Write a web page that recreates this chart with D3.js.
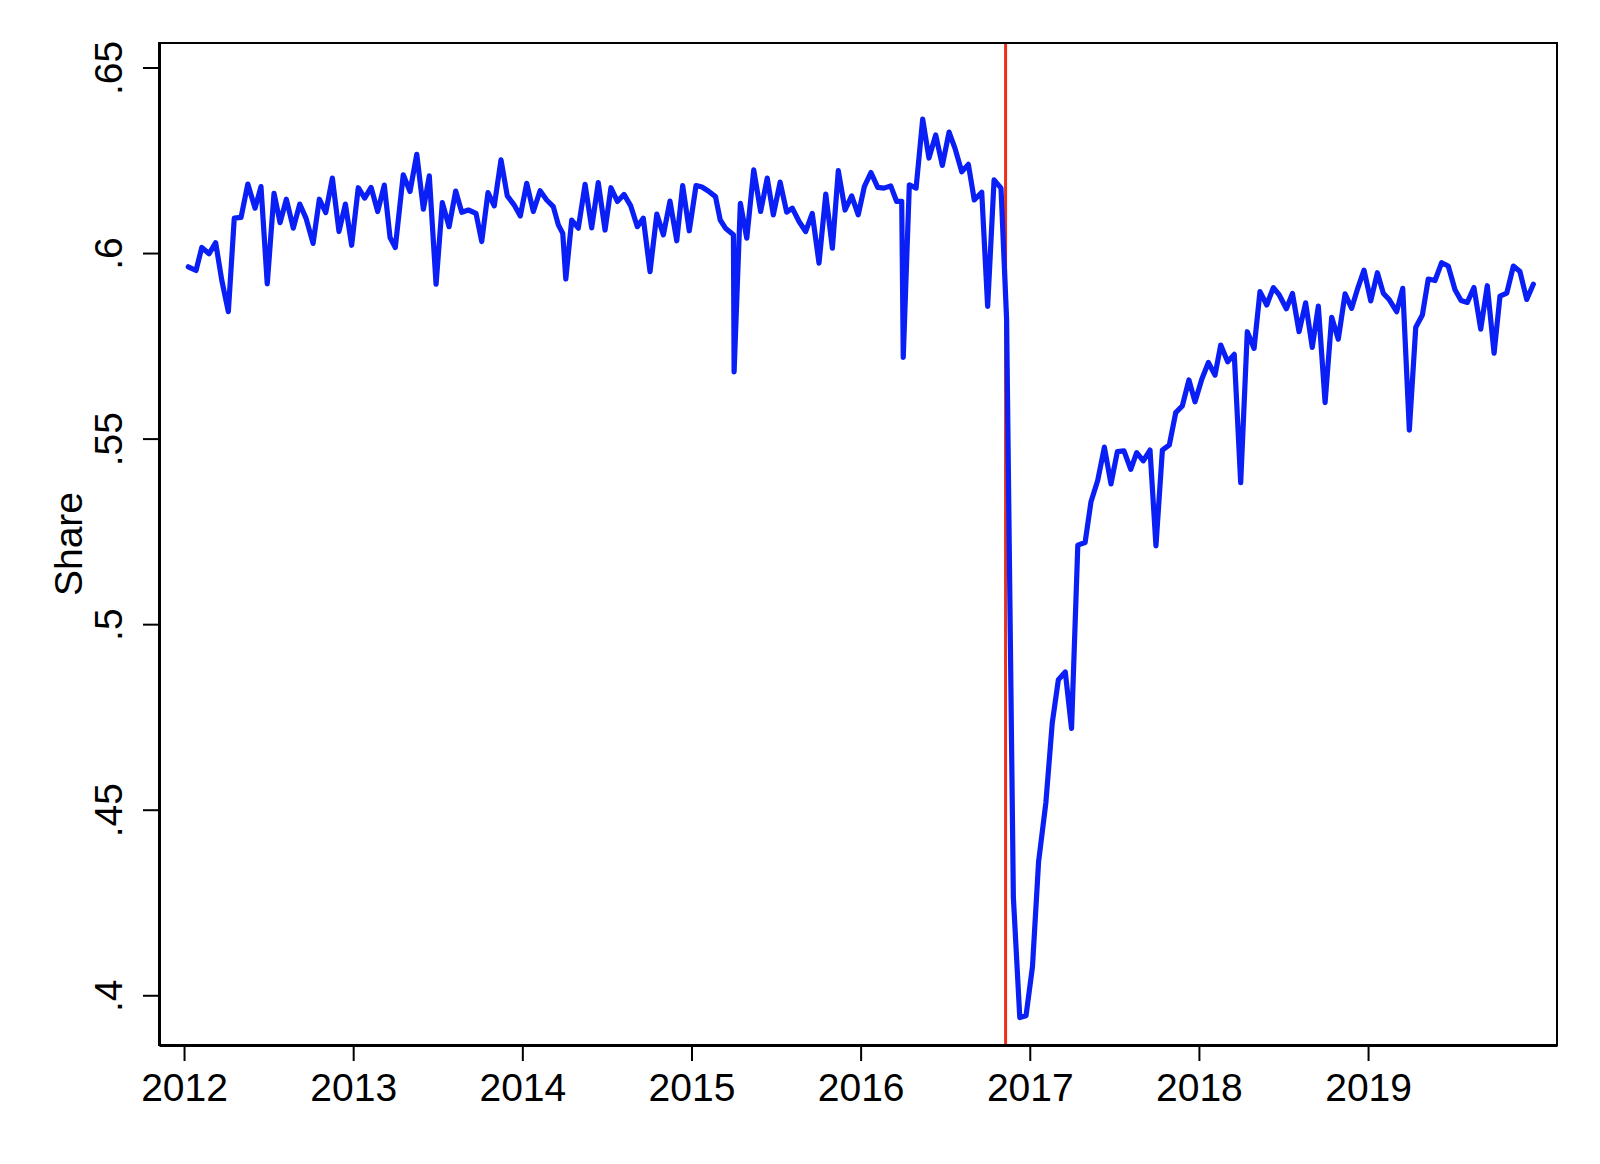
<!DOCTYPE html>
<html>
<head>
<meta charset="utf-8">
<script src="https://cdn.jsdelivr.net/npm/d3@7"></script>
<style>
  html, body { margin: 0; padding: 0; background: #fff; }
  text { font-family: "Liberation Sans", Arial, Helvetica, sans-serif; }
</style>
</head>
<body>
<div id="chart"></div>
<script>
// Data: decimal year of each observation and the share
const dates = [
  2012.025, 2012.071, 2012.105, 2012.148, 2012.187, 2012.223, 2012.262, 2012.297, 2012.337, 2012.377,
  2012.420, 2012.455, 2012.492, 2012.532, 2012.568, 2012.605, 2012.646, 2012.684, 2012.721, 2012.763,
  2012.800, 2012.838, 2012.877, 2012.916, 2012.954, 2012.991, 2013.030, 2013.068, 2013.106, 2013.145,
  2013.184, 2013.218, 2013.249, 2013.296, 2013.336, 2013.376, 2013.415, 2013.450, 2013.490, 2013.527,
  2013.567, 2013.606, 2013.642, 2013.681, 2013.726, 2013.760, 2013.797, 2013.834, 2013.874, 2013.911,
  2013.951, 2013.988, 2014.026, 2014.065, 2014.105, 2014.144, 2014.183, 2014.213, 2014.239, 2014.257,
  2014.292, 2014.331, 2014.371, 2014.410, 2014.449, 2014.489, 2014.524, 2014.562, 2014.601, 2014.641,
  2014.680, 2014.715, 2014.755, 2014.795, 2014.834, 2014.873, 2014.913, 2014.948, 2014.987, 2015.027,
  2015.062, 2015.097, 2015.142, 2015.170, 2015.201, 2015.248, 2015.252, 2015.289, 2015.327, 2015.368,
  2015.409, 2015.448, 2015.484, 2015.524, 2015.563, 2015.596, 2015.636, 2015.675, 2015.714, 2015.754,
  2015.794, 2015.833, 2015.868, 2015.908, 2015.947, 2015.986, 2016.022, 2016.061, 2016.101, 2016.138,
  2016.178, 2016.213, 2016.243, 2016.252, 2016.288, 2016.328, 2016.367, 2016.404, 2016.444, 2016.483,
  2016.523, 2016.558, 2016.598, 2016.637, 2016.672, 2016.716, 2016.751, 2016.789, 2016.830, 2016.863,
  2016.903, 2016.941, 2016.978, 2017.016, 2017.052, 2017.095, 2017.133, 2017.169, 2017.210, 2017.247,
  2017.284, 2017.327, 2017.362, 2017.402, 2017.441, 2017.480, 2017.518, 2017.557, 2017.597, 2017.632,
  2017.671, 2017.711, 2017.746, 2017.784, 2017.825, 2017.863, 2017.902, 2017.941, 2017.977, 2018.017,
  2018.056, 2018.095, 2018.129, 2018.170, 2018.209, 2018.247, 2018.286, 2018.326, 2018.361, 2018.401,
  2018.440, 2018.475, 2018.517, 2018.553, 2018.592, 2018.631, 2018.670, 2018.706, 2018.746, 2018.785,
  2018.824, 2018.864, 2018.903, 2018.939, 2018.976, 2019.016, 2019.055, 2019.090, 2019.126, 2019.169,
  2019.205, 2019.244, 2019.282, 2019.321, 2019.356, 2019.396, 2019.435, 2019.474, 2019.514, 2019.550,
  2019.587, 2019.626, 2019.666, 2019.705, 2019.745, 2019.780, 2019.820, 2019.859, 2019.898, 2019.938,
  2019.977
];

const shares = [
  0.5963, 0.5953, 0.6015, 0.5998, 0.6028, 0.5927, 0.5842, 0.6094, 0.6096, 0.6186,
  0.6121, 0.6179, 0.5917, 0.6161, 0.6082, 0.6145, 0.6067, 0.6132, 0.6094, 0.6026,
  0.6145, 0.6109, 0.6202, 0.6058, 0.6132, 0.6021, 0.6176, 0.6148, 0.6177, 0.6112,
  0.6183, 0.6042, 0.6015, 0.6211, 0.6166, 0.6266, 0.6118, 0.6208, 0.5916, 0.6136,
  0.6071, 0.6167, 0.6110, 0.6116, 0.6107, 0.6031, 0.6163, 0.6127, 0.6251, 0.6154,
  0.6130, 0.6100, 0.6188, 0.6112, 0.6168, 0.6143, 0.6125, 0.6076, 0.6053, 0.5930,
  0.6089, 0.6067, 0.6185, 0.6068, 0.6190, 0.6062, 0.6176, 0.6139, 0.6158, 0.6127,
  0.6071, 0.6094, 0.5950, 0.6105, 0.6049, 0.6140, 0.6033, 0.6182, 0.6060, 0.6182,
  0.6178, 0.6168, 0.6152, 0.6089, 0.6067, 0.6049, 0.5680, 0.6134, 0.6040, 0.6224,
  0.6112, 0.6202, 0.6103, 0.6191, 0.6110, 0.6121, 0.6085, 0.6058, 0.6107, 0.5973,
  0.6159, 0.6013, 0.6222, 0.6116, 0.6154, 0.6103, 0.6179, 0.6217, 0.6177, 0.6175,
  0.6181, 0.6139, 0.6139, 0.5719, 0.6184, 0.6175, 0.6361, 0.6256, 0.6318, 0.6236,
  0.6326, 0.6282, 0.6219, 0.6239, 0.6143, 0.6164, 0.5856, 0.6197, 0.6175, 0.5822,
  0.4264, 0.3940, 0.3945, 0.4077, 0.4359, 0.4518, 0.4734, 0.4850, 0.4871, 0.4719,
  0.5213, 0.5220, 0.5330, 0.5388, 0.5477, 0.5378, 0.5465, 0.5467, 0.5417, 0.5462,
  0.5440, 0.5469, 0.5211, 0.5469, 0.5483, 0.5570, 0.5588, 0.5658, 0.5599, 0.5660,
  0.5705, 0.5671, 0.5752, 0.5707, 0.5727, 0.5381, 0.5788, 0.5743, 0.5896, 0.5860,
  0.5907, 0.5887, 0.5850, 0.5891, 0.5788, 0.5866, 0.5746, 0.5857, 0.5597, 0.5827,
  0.5768, 0.5890, 0.5851, 0.5905, 0.5954, 0.5871, 0.5947, 0.5892, 0.5874, 0.5842,
  0.5905, 0.5523, 0.5800, 0.5833, 0.5930, 0.5926, 0.5974, 0.5965, 0.5901, 0.5872,
  0.5867, 0.5907, 0.5795, 0.5912, 0.5730, 0.5884, 0.5892, 0.5965, 0.5950, 0.5875,
  0.5916
];

const xTicks = [2012, 2013, 2014, 2015, 2016, 2017, 2018, 2019];
const yTicks = [0.4, 0.45, 0.5, 0.55, 0.6, 0.65];
const yTickLabels = [".4", ".45", ".5", ".55", ".6", ".65"];
const eventDate = 2016.857;   // Nov 2016
const yLabel = "Share";

const data = dates.map((d, i) => ({ date: d, share: shares[i] }));

// Layout
const W = 1600, H = 1164;
const margin = { top: 43, right: 43, bottom: 119, left: 159 },
      width = W - margin.left - margin.right,
      height = H - margin.top - margin.bottom;
const fontSize = 39;

const svg = d3.select("#chart").append("svg")
    .attr("width", W)
    .attr("height", H)
    .style("background", "#fff");

const g = svg.append("g")
    .attr("transform", `translate(${margin.left}, ${margin.top})`);

const x = d3.scaleLinear()
    .domain([2011.852, 2020.117])
    .range([0, width]);

const y = d3.scaleLinear()
    .domain([0.3866, 0.6566])
    .range([height, 0]);

// Event line (drawn under the series)
g.append("line")
    .attr("x1", x(eventDate))
    .attr("x2", x(eventDate))
    .attr("y1", 0)
    .attr("y2", height)
    .attr("stroke", "#e8301c")
    .attr("stroke-width", 3);

// Series
const line = d3.line()
    .x(d => x(d.date))
    .y(d => y(d.share));

g.append("path")
    .datum(data)
    .attr("fill", "none")
    .attr("stroke", "#0a1ff5")
    .attr("stroke-width", 5.2)
    .attr("stroke-linejoin", "round")
    .attr("stroke-linecap", "round")
    .attr("d", line);

// Plot frame
g.append("rect")
    .attr("x", 0)
    .attr("y", 0)
    .attr("width", width)
    .attr("height", height)
    .attr("fill", "none")
    .attr("stroke", "#000")
    .attr("stroke-width", 2);

// X axis
const xAxis = g.append("g")
    .attr("transform", `translate(0, ${height})`)
    .call(d3.axisBottom(x)
        .tickValues(xTicks)
        .tickFormat(d3.format("d"))
        .tickSize(16)
        .tickSizeOuter(0));

xAxis.select(".domain").attr("stroke-width", 3);
xAxis.selectAll(".tick line").attr("stroke-width", 2);
xAxis.selectAll(".tick text")
    .attr("y", 56)
    .attr("dy", null)
    .attr("fill", "#000")
    .style("font-size", fontSize + "px");

// Y axis
const yAxis = g.append("g")
    .call(d3.axisLeft(y)
        .tickValues(yTicks)
        .tickFormat((d, i) => yTickLabels[i])
        .tickSize(16)
        .tickSizeOuter(0));

yAxis.select(".domain").attr("stroke-width", 3);
yAxis.selectAll(".tick line").attr("stroke-width", 2);
yAxis.selectAll(".tick text")
    .attr("x", null)
    .attr("dy", null)
    .attr("text-anchor", "middle")
    .attr("transform", "translate(-37, 0) rotate(-90)")
    .attr("fill", "#000")
    .style("font-size", fontSize + "px");

// Y axis title
svg.append("text")
    .attr("transform", `translate(82, ${margin.top + height / 2}) rotate(-90)`)
    .attr("text-anchor", "middle")
    .style("font-size", fontSize + "px")
    .text(yLabel);
</script>
</body>
</html>
